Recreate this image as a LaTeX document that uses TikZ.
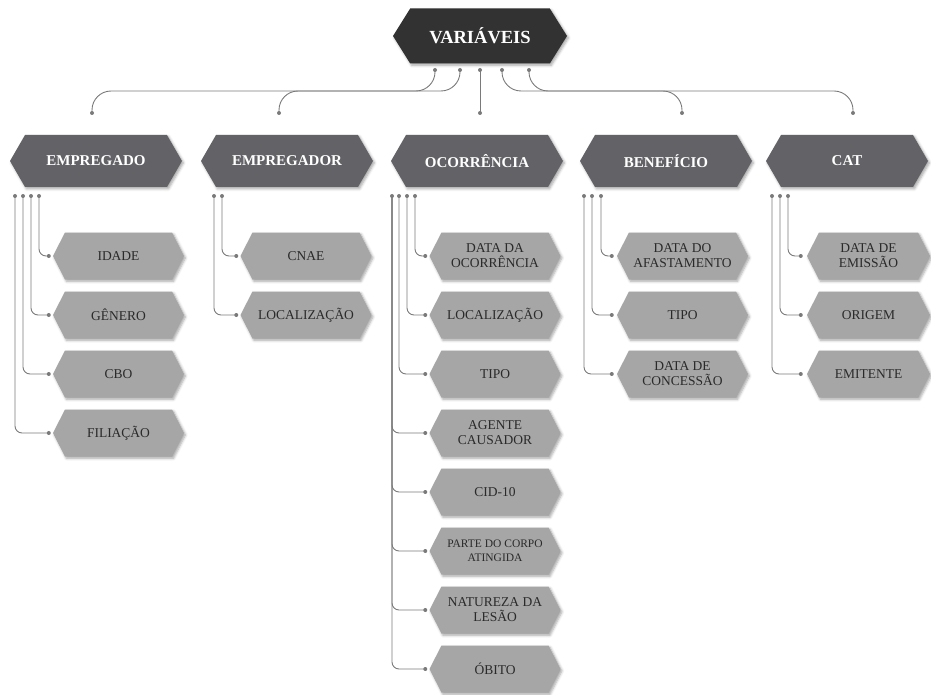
\documentclass[tikz,border=0pt]{standalone}
\usepackage{fontspec}
\setmainfont{Liberation Serif}
\usetikzlibrary{shapes.symbols,shadows.blur}

\definecolor{rootfill}{HTML}{323232}
\definecolor{groupfill}{HTML}{636267}
\definecolor{itemfill}{HTML}{A6A6A6}
\definecolor{itemtext}{HTML}{2A2A2A}
\definecolor{wirecol}{HTML}{7A7A7A}

\tikzset{
  hexa/.style={shape=signal, signal to=west and east, inner sep=0pt, align=center,
    blur shadow={shadow xshift=1.5pt, shadow yshift=-1.8pt, shadow blur radius=2.5pt, shadow opacity=35}},
  rootbox/.style={hexa, fill=rootfill, text=white,
    font=\bfseries\fontsize{18.5}{20}\selectfont,
    minimum width=174pt, minimum height=55pt, signal pointer angle=116},
  groupbox/.style={hexa, fill=groupfill, text=white,
    font=\bfseries\fontsize{15}{17}\selectfont,
    minimum width=172pt, minimum height=52pt, signal pointer angle=120},
  itembox/.style={hexa, fill=itemfill, text=itemtext,
    font=\fontsize{13.5}{15}\selectfont,
    minimum width=131pt, minimum height=47pt, signal pointer angle=126},
  wire/.style={draw=wirecol, line width=0.9pt},
  bus/.style={wire, rounded corners=19pt},
  branch/.style={wire, rounded corners=7pt},
  pin/.style={circle, fill=wirecol, inner sep=0pt, minimum size=4pt},
}

\begin{document}
\begin{tikzpicture}[x=1pt, y=-1pt]
\useasboundingbox (0,0) rectangle (931,695);

% root and the five groups
\node[rootbox] (root) at (480,36) {VARIÁVEIS};
\node[groupbox] (emp)  at (96,161)  {EMPREGADO};
\node[groupbox] (empr) at (287,161) {EMPREGADOR};
\node[groupbox] (oco)  at (477,161) {OCORRÊNCIA};
\node[groupbox] (ben)  at (666,161) {BENEFÍCIO};
\node[groupbox, minimum width=162pt] (cat) at (847,161) {CAT};

% items of EMPREGADO
\node[itembox] (idade)  at (118.5,256) {IDADE};
\node[itembox] (genero) at (118.5,315) {GÊNERO};
\node[itembox] (cbo)    at (118.5,374) {CBO};
\node[itembox] (filia)  at (118.5,433) {FILIAÇÃO};

% items of EMPREGADOR
\node[itembox] (cnae)  at (306,256) {CNAE};
\node[itembox] (local) at (306,315) {LOCALIZAÇÃO};

% items of OCORRÊNCIA
\node[itembox] (dataoc)  at (495,256) {DATA DA\\OCORRÊNCIA};
\node[itembox] (lococ)   at (495,315) {LOCALIZAÇÃO};
\node[itembox] (tipooc)  at (495,374) {TIPO};
\node[itembox] (agente)  at (495,433) {AGENTE\\CAUSADOR};
\node[itembox] (cid)     at (495,492) {CID-10};
\node[itembox, font=\fontsize{11.5}{14}\selectfont] (parte) at (495,551) {PARTE DO CORPO\\ATINGIDA};
\node[itembox] (natur)   at (495,610) {NATUREZA DA\\LESÃO};
\node[itembox] (obito)   at (495,669) {ÓBITO};

% items of BENEFÍCIO
\node[itembox] (dataaf)  at (682.5,256) {DATA DO\\AFASTAMENTO};
\node[itembox] (tipobe)  at (682.5,315) {TIPO};
\node[itembox] (datacon) at (682.5,374) {DATA DE\\CONCESSÃO};

% items of CAT
\node[itembox, minimum width=123pt] (dataem)  at (868.5,256) {DATA DE\\EMISSÃO};
\node[itembox, minimum width=123pt] (origem)  at (868.5,315) {ORIGEM};
\node[itembox, minimum width=123pt] (emitente) at (868.5,374) {EMITENTE};

% root to groups
\coordinate (busline) at (0,91);
\coordinate (r1) at (435,70);
\coordinate (r2) at (460,70);
\coordinate (r3) at (480,70);
\coordinate (r4) at (502,70);
\coordinate (r5) at (529,70);
\coordinate (g1) at (92,113);
\coordinate (g2) at (279,113);
\coordinate (g3) at (480,113);
\coordinate (g4) at (682,113);
\coordinate (g5) at (853,113);
\draw[bus] (r1) |- (busline -| g1) -- (g1);
\draw[bus] (r2) |- (busline -| g2) -- (g2);
\draw[wire] (r3) -- (g3);
\draw[bus] (r4) |- (busline -| g4) -- (g4);
\draw[bus] (r5) |- (busline -| g5) -- (g5);
\foreach \p in {r1,r2,r3,r4,r5,g1,g2,g3,g4,g5} \node[pin] at (\p) {};

% EMPREGADO branches
\coordinate (ea) at (15,196);
\coordinate (eb) at (23,196);
\coordinate (ec) at (31,196);
\coordinate (ed) at (39,196);
\draw[branch] (ed) |- ([xshift=-4pt]idade.west);
\draw[branch] (ec) |- ([xshift=-4pt]genero.west);
\draw[branch] (eb) |- ([xshift=-4pt]cbo.west);
\draw[branch] (ea) |- ([xshift=-4pt]filia.west);

% EMPREGADOR branches
\coordinate (pa) at (214,196);
\coordinate (pb) at (222,196);
\draw[branch] (pb) |- ([xshift=-4pt]cnae.west);
\draw[branch] (pa) |- ([xshift=-4pt]local.west);

% OCORRÊNCIA branches
\coordinate (oa) at (392,196);
\coordinate (ob) at (399,196);
\coordinate (oc) at (407,196);
\coordinate (od) at (415,196);
\draw[branch] (od) |- ([xshift=-4pt]dataoc.west);
\draw[branch] (oc) |- ([xshift=-4pt]lococ.west);
\draw[branch] (ob) |- ([xshift=-4pt]tipooc.west);
\foreach \n in {agente,cid,parte,natur,obito}
  \draw[branch] (oa) |- ([xshift=-4pt]\n.west);

% BENEFÍCIO branches
\coordinate (ba) at (584,196);
\coordinate (bb) at (592,196);
\coordinate (bc) at (601,196);
\draw[branch] (bc) |- ([xshift=-5pt]dataaf.west);
\draw[branch] (bb) |- ([xshift=-5pt]tipobe.west);
\draw[branch] (ba) |- ([xshift=-5pt]datacon.west);

% CAT branches
\coordinate (ca) at (772,196);
\coordinate (cb) at (780,196);
\coordinate (cc) at (788,196);
\draw[branch] (cc) |- ([xshift=-6pt]dataem.west);
\draw[branch] (cb) |- ([xshift=-6pt]origem.west);
\draw[branch] (ca) |- ([xshift=-6pt]emitente.west);

% branch end pins
\foreach \p in {ea,eb,ec,ed,pa,pb,oa,ob,oc,od,ba,bb,bc,ca,cb,cc} \node[pin] at (\p) {};
\foreach \n in {idade,genero,cbo,filia,cnae,local,dataoc,lococ,tipooc,agente,cid,parte,natur,obito}
  \node[pin] at ([xshift=-4pt]\n.west) {};
\foreach \n in {dataaf,tipobe,datacon}
  \node[pin] at ([xshift=-5pt]\n.west) {};
\foreach \n in {dataem,origem,emitente}
  \node[pin] at ([xshift=-6pt]\n.west) {};
\end{tikzpicture}
\end{document}
